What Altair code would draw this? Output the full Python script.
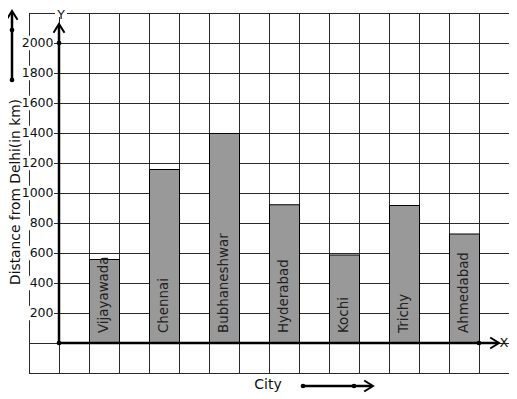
import altair as alt
import pandas as pd

cities = ["Vijayawada", "Chennai", "Bubhaneshwar", "Hyderabad", "Kochi", "Trichy", "Ahmedabad"]
distances = [560, 1160, 1400, 925, 590, 920, 730]
y_ticks = [200, 400, 600, 800, 1000, 1200, 1400, 1600, 1800, 2000]
grid_x = list(range(-1, 16))
grid_y = list(range(-200, 2201, 200))

W, H = 480, 360
FONT = "DejaVu Sans"
xs = alt.Scale(domain=[-1, 15], nice=False, zero=False)
ys = alt.Scale(domain=[-200, 2200], nice=False, zero=False)

bars_df = pd.DataFrame({
    "city": cities,
    "dist": distances,
    "x0": [1 + 2 * i for i in range(len(cities))],
})
bars_df["x1"] = bars_df["x0"] + 1
bars_df["xc"] = bars_df["x0"] + 0.5

dummy = alt.Data(values=[{"a": 1}])

vgrid = alt.Chart(pd.DataFrame({"g": grid_x})).mark_rule(
    color="#2a2a2a", strokeWidth=1, xOffset=0.5
).encode(x=alt.X("g:Q", scale=xs, axis=None), y=alt.value(0), y2=alt.value(H))

hgrid = alt.Chart(pd.DataFrame({"g": grid_y})).mark_rule(
    color="#2a2a2a", strokeWidth=1, yOffset=0.5
).encode(y=alt.Y("g:Q", scale=ys, axis=None), x=alt.value(0), x2=alt.value(W))

bars = alt.Chart(bars_df).mark_rect(
    color="#999999", stroke="black", strokeWidth=1, xOffset=0.5, yOffset=0.5, x2Offset=0.5, y2Offset=0.5
).encode(
    x=alt.X("x0:Q", scale=xs, axis=None),
    x2="x1:Q",
    y=alt.Y("dist:Q", scale=ys, axis=None),
    y2=alt.datum(0),
)

bar_labels = alt.Chart(bars_df).mark_text(
    angle=270, align="left", baseline="middle", font=FONT, fontSize=13.4, color="#222222"
).encode(
    x=alt.X("xc:Q", scale=xs, axis=None),
    y=alt.value(320),
    text="city:N",
)

lab_df = pd.DataFrame({"v": y_ticks})
lab_bg = alt.Chart(lab_df).transform_calculate(
    lo="datum.v - 48", hi="datum.v + 48"
).mark_rect(color="white").encode(
    x=alt.value(-8), x2=alt.value(25),
    y=alt.Y("lo:Q", scale=ys, axis=None), y2="hi:Q",
)
y_labels = alt.Chart(lab_df).mark_text(
    align="right", baseline="middle", font=FONT, fontSize=12.5, color="#111111"
).encode(
    x=alt.value(24.5),
    y=alt.Y("v:Q", scale=ys, axis=None),
    text=alt.Text("v:Q", format="d"),
)


def rule(x1, y1, x2, y2, w=2.5):
    return alt.Chart(dummy).mark_rule(color="black", strokeWidth=w).encode(
        x=alt.value(x1), y=alt.value(y1), x2=alt.value(x2), y2=alt.value(y2)
    )


def dot(x, y):
    return alt.Chart(dummy).mark_point(
        filled=True, color="black", opacity=1, size=22, shape="circle"
    ).encode(x=alt.value(x), y=alt.value(y))


def head(x, y, shape, size=121):
    return alt.Chart(dummy).mark_point(
        filled=False, color="black", opacity=1, size=size, shape=shape, strokeWidth=2
    ).encode(x=alt.value(x), y=alt.value(y))


def text(x, y, t, angle=0, size=14, align="center"):
    kw = dict(align=align, baseline="middle", font=FONT, fontSize=size, color="#111111", text=t)
    if angle:
        kw["angle"] = angle
    return alt.Chart(dummy).mark_text(**kw).encode(x=alt.value(x), y=alt.value(y))


def white(x1, y1, x2, y2):
    return alt.Chart(dummy).mark_rect(color="white").encode(
        x=alt.value(x1), y=alt.value(y1), x2=alt.value(x2), y2=alt.value(y2)
    )


UP = "M-1,1.6L0,0L1,1.6"
RIGHT = "M-1.6,-1L0,0L-1.6,1"

layers = [
    vgrid, hgrid, bars, bar_labels, lab_bg, y_labels,
    white(26, -3, 38, 4),
    text(32, 1.5, "Y", size=12.5),
    # axes
    rule(30, 330, 30, 12),
    rule(30, 330, 469, 330),
    head(30, 11, UP),
    head(470, 330, RIGHT),
    dot(30, 30), dot(30, 330), dot(450, 330),
    text(479.5, 330, "X", size=13, align="right"),
    # y title with arrow
    text(-13.5, 179, "Distance from Delhi(in km)", angle=270, size=13.8),
    rule(-17, 67, -17, -1),
    head(-17, -2, UP),
    dot(-17, 17), dot(-17, 67),
    # x title with arrow
    text(239, 372, "City"),
    rule(274, 373, 343, 373),
    head(344, 373, RIGHT),
    dot(274, 373), dot(325, 373),
]

chart = alt.layer(*layers).properties(
    width=W, height=H,
    autosize=alt.AutoSizeParams(type="none"),
    padding={"left": 21, "top": 5, "right": 0, "bottom": 22},
).configure_view(strokeWidth=0).configure(background="white")

chart.save("out.html", embed_options={"renderer": "svg", "actions": False})
